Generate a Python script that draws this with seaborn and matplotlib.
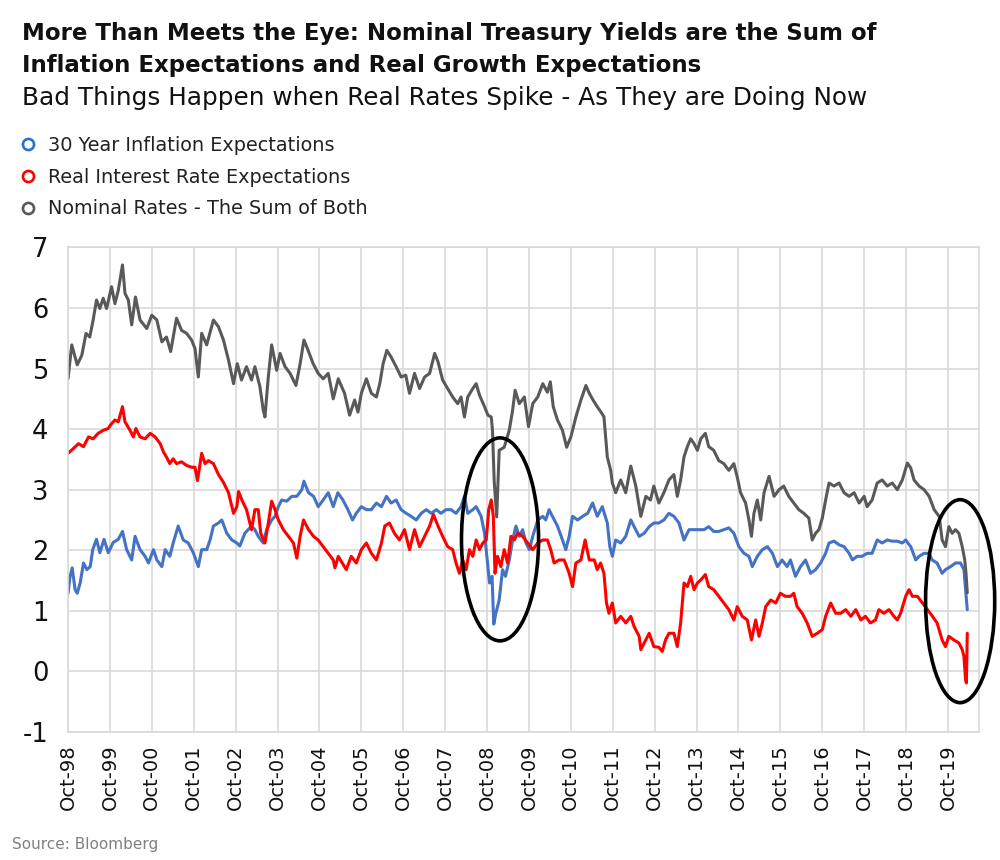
import pandas as pd
import matplotlib.pyplot as plt
import seaborn as sns
from matplotlib.patches import Ellipse
from matplotlib.lines import Line2D

# (years after Oct-1998, yield %)
inflation = [(0, 1.29), (0.05, 1.57), (0.1, 1.71), (0.17, 1.35), (0.22, 1.29), (0.29, 1.46), (0.37, 1.79),
             (0.45, 1.68), (0.53, 1.73), (0.59, 2.01), (0.68, 2.18), (0.76, 1.96), (0.86, 2.18), (0.96, 1.96),
             (1.08, 2.13), (1.2, 2.18), (1.3, 2.31), (1.4, 2.01), (1.52, 1.84), (1.6, 2.23), (1.72, 2.01),
             (1.84, 1.9), (1.92, 1.79), (2.04, 2.01), (2.12, 1.84), (2.24, 1.73), (2.32, 2.01), (2.43, 1.9),
             (2.51, 2.12), (2.63, 2.4), (2.75, 2.17), (2.87, 2.12), (2.99, 1.96), (3.11, 1.73), (3.19, 2.01),
             (3.31, 2.01), (3.39, 2.17), (3.47, 2.4), (3.59, 2.45), (3.67, 2.5), (3.79, 2.28), (3.91, 2.17),
             (4.03, 2.12), (4.1, 2.07), (4.22, 2.28), (4.3, 2.34), (4.38, 2.4), (4.46, 2.34), (4.54, 2.23),
             (4.66, 2.12), (4.74, 2.34), (4.86, 2.5), (4.94, 2.56), (5.02, 2.72), (5.1, 2.83), (5.22, 2.81),
             (5.34, 2.89), (5.46, 2.89), (5.58, 3.0), (5.63, 3.14), (5.74, 2.95), (5.86, 2.89), (5.97, 2.72),
             (6.09, 2.83), (6.21, 2.95), (6.33, 2.72), (6.44, 2.95), (6.56, 2.83), (6.68, 2.67), (6.79, 2.5),
             (6.88, 2.61), (7.0, 2.72), (7.12, 2.67), (7.24, 2.67), (7.36, 2.78), (7.48, 2.72), (7.6, 2.89),
             (7.71, 2.78), (7.83, 2.83), (7.95, 2.67), (8.07, 2.61), (8.19, 2.56), (8.31, 2.5), (8.43, 2.61),
             (8.55, 2.67), (8.67, 2.61), (8.79, 2.67), (8.9, 2.61), (9.02, 2.67), (9.14, 2.67), (9.26, 2.61),
             (9.38, 2.72), (9.46, 2.89), (9.54, 2.61), (9.66, 2.67), (9.74, 2.72), (9.86, 2.56), (9.94, 2.28),
             (10.02, 1.73), (10.06, 1.46), (10.12, 1.57), (10.16, 0.78), (10.21, 0.96), (10.29, 1.18),
             (10.37, 1.68), (10.44, 1.57), (10.53, 1.84), (10.61, 2.17), (10.69, 2.4), (10.77, 2.23),
             (10.85, 2.34), (10.93, 2.12), (11.01, 2.01), (11.09, 2.23), (11.21, 2.5), (11.33, 2.56),
             (11.4, 2.5), (11.48, 2.67), (11.56, 2.56), (11.68, 2.4), (11.8, 2.17), (11.88, 2.01),
             (11.96, 2.23), (12.04, 2.56), (12.16, 2.5), (12.28, 2.56), (12.4, 2.61), (12.52, 2.78),
             (12.63, 2.56), (12.75, 2.72), (12.87, 2.45), (12.93, 2.06), (12.99, 1.9), (13.07, 2.17),
             (13.19, 2.12), (13.31, 2.23), (13.43, 2.5), (13.51, 2.39), (13.63, 2.23), (13.75, 2.28),
             (13.87, 2.39), (13.98, 2.45), (14.1, 2.45), (14.22, 2.5), (14.34, 2.61), (14.46, 2.56),
             (14.58, 2.45), (14.7, 2.17), (14.82, 2.34), (14.94, 2.34), (15.06, 2.34), (15.18, 2.34),
             (15.29, 2.39), (15.41, 2.31), (15.53, 2.31), (15.65, 2.34), (15.77, 2.37), (15.89, 2.28),
             (16.01, 2.06), (16.13, 1.95), (16.25, 1.9), (16.33, 1.73), (16.45, 1.9), (16.57, 2.01),
             (16.69, 2.06), (16.81, 1.95), (16.93, 1.73), (17.04, 1.84), (17.16, 1.73), (17.24, 1.84),
             (17.36, 1.57), (17.48, 1.73), (17.6, 1.84), (17.72, 1.62), (17.84, 1.68), (17.96, 1.79),
             (18.08, 1.95), (18.16, 2.12), (18.28, 2.15), (18.4, 2.09), (18.52, 2.06), (18.64, 1.95),
             (18.72, 1.84), (18.83, 1.9), (18.95, 1.9), (19.07, 1.95), (19.19, 1.95), (19.31, 2.17),
             (19.43, 2.12), (19.55, 2.17), (19.67, 2.15), (19.79, 2.15), (19.91, 2.12), (19.99, 2.17),
             (20.11, 2.06), (20.23, 1.84), (20.31, 1.9), (20.43, 1.95), (20.55, 1.95), (20.62, 1.84),
             (20.74, 1.79), (20.86, 1.62), (20.94, 1.68), (21.06, 1.73), (21.18, 1.79), (21.3, 1.79),
             (21.38, 1.68), (21.42, 1.35), (21.46, 1.02)]

real_rate = [(0, 3.6), (0.13, 3.68), (0.25, 3.76), (0.37, 3.71), (0.49, 3.87), (0.6, 3.84), (0.72, 3.93),
             (0.84, 3.98), (0.96, 4.01), (1.04, 4.09), (1.12, 4.15), (1.2, 4.12), (1.3, 4.37), (1.36, 4.12),
             (1.48, 3.98), (1.56, 3.87), (1.62, 4.01), (1.72, 3.87), (1.84, 3.84), (1.96, 3.93), (2.08, 3.87),
             (2.2, 3.76), (2.28, 3.62), (2.35, 3.54), (2.43, 3.43), (2.51, 3.51), (2.59, 3.43), (2.71, 3.46),
             (2.83, 3.4), (2.95, 3.37), (3.03, 3.37), (3.09, 3.15), (3.19, 3.6), (3.27, 3.43), (3.35, 3.48),
             (3.47, 3.43), (3.59, 3.25), (3.71, 3.12), (3.83, 2.95), (3.95, 2.61), (4.03, 2.72), (4.07, 2.97),
             (4.15, 2.83), (4.26, 2.67), (4.38, 2.34), (4.46, 2.67), (4.54, 2.67), (4.6, 2.28), (4.7, 2.12),
             (4.78, 2.45), (4.86, 2.81), (4.94, 2.67), (5.02, 2.5), (5.14, 2.34), (5.26, 2.23), (5.38, 2.12),
             (5.46, 1.87), (5.54, 2.23), (5.62, 2.5), (5.74, 2.34), (5.86, 2.23), (5.97, 2.17), (6.09, 2.06),
             (6.21, 1.95), (6.33, 1.84), (6.37, 1.71), (6.45, 1.9), (6.64, 1.68), (6.76, 1.9), (6.88, 1.79),
             (7.0, 2.01), (7.12, 2.12), (7.24, 1.95), (7.36, 1.84), (7.48, 2.12), (7.56, 2.4), (7.67, 2.45),
             (7.79, 2.28), (7.91, 2.17), (8.03, 2.34), (8.15, 2.01), (8.27, 2.34), (8.39, 2.06), (8.51, 2.23),
             (8.63, 2.4), (8.72, 2.59), (8.83, 2.4), (8.94, 2.23), (9.06, 2.06), (9.18, 2.01), (9.26, 1.79),
             (9.34, 1.62), (9.42, 1.84), (9.5, 1.68), (9.58, 2.01), (9.66, 1.9), (9.74, 2.17), (9.82, 2.01),
             (9.9, 2.12), (9.98, 2.17), (10.04, 2.67), (10.1, 2.83), (10.15, 2.56), (10.19, 1.62),
             (10.25, 1.9), (10.33, 1.73), (10.41, 2.01), (10.49, 1.79), (10.57, 2.23), (10.65, 2.17),
             (10.73, 2.28), (10.85, 2.23), (10.97, 2.12), (11.09, 2.01), (11.21, 2.12), (11.33, 2.17),
             (11.44, 2.17), (11.52, 2.01), (11.6, 1.79), (11.72, 1.84), (11.84, 1.84), (11.96, 1.62),
             (12.04, 1.4), (12.12, 1.79), (12.24, 1.84), (12.34, 2.17), (12.44, 1.84), (12.56, 1.84),
             (12.63, 1.68), (12.71, 1.79), (12.79, 1.62), (12.85, 1.13), (12.91, 0.96), (12.99, 1.13),
             (13.07, 0.8), (13.19, 0.91), (13.31, 0.8), (13.43, 0.91), (13.51, 0.74), (13.63, 0.58),
             (13.67, 0.36), (13.75, 0.47), (13.87, 0.63), (13.98, 0.41), (14.1, 0.4), (14.18, 0.33),
             (14.26, 0.52), (14.34, 0.63), (14.46, 0.63), (14.54, 0.41), (14.62, 0.8), (14.7, 1.46),
             (14.78, 1.4), (14.86, 1.57), (14.94, 1.35), (15.02, 1.46), (15.1, 1.51), (15.21, 1.6),
             (15.29, 1.4), (15.41, 1.35), (15.53, 1.24), (15.65, 1.13), (15.77, 1.02), (15.89, 0.85),
             (15.97, 1.07), (16.09, 0.91), (16.21, 0.85), (16.31, 0.52), (16.41, 0.85), (16.49, 0.58),
             (16.57, 0.8), (16.65, 1.07), (16.77, 1.18), (16.89, 1.13), (17.0, 1.29), (17.12, 1.24),
             (17.24, 1.24), (17.32, 1.29), (17.4, 1.07), (17.52, 0.96), (17.64, 0.8), (17.76, 0.58),
             (17.88, 0.63), (18.0, 0.69), (18.08, 0.91), (18.2, 1.13), (18.32, 0.96), (18.44, 0.96),
             (18.56, 1.02), (18.68, 0.91), (18.8, 1.02), (18.92, 0.85), (19.03, 0.91), (19.15, 0.8),
             (19.27, 0.85), (19.35, 1.02), (19.47, 0.96), (19.59, 1.02), (19.71, 0.91), (19.79, 0.85),
             (19.87, 0.96), (19.99, 1.24), (20.07, 1.35), (20.15, 1.24), (20.27, 1.24), (20.39, 1.13),
             (20.51, 1.02), (20.63, 0.91), (20.74, 0.8), (20.86, 0.52), (20.94, 0.41), (21.02, 0.58),
             (21.14, 0.52), (21.26, 0.47), (21.34, 0.36), (21.38, 0.25), (21.42, -0.14), (21.44, -0.19),
             (21.46, 0.63)]

nominal = [(0, 4.83), (0.09, 5.39), (0.22, 5.06), (0.33, 5.22), (0.43, 5.58), (0.52, 5.52), (0.6, 5.8),
           (0.68, 6.13), (0.76, 5.99), (0.84, 6.16), (0.92, 5.99), (1.04, 6.35), (1.12, 6.07), (1.2, 6.29),
           (1.3, 6.71), (1.36, 6.24), (1.44, 6.13), (1.52, 5.72), (1.61, 6.18), (1.72, 5.8), (1.88, 5.66),
           (2.0, 5.88), (2.12, 5.8), (2.24, 5.44), (2.35, 5.52), (2.45, 5.28), (2.59, 5.83), (2.71, 5.63),
           (2.83, 5.58), (2.95, 5.47), (3.03, 5.33), (3.11, 4.86), (3.19, 5.58), (3.31, 5.39), (3.47, 5.8),
           (3.59, 5.69), (3.71, 5.47), (3.83, 5.14), (3.95, 4.75), (4.04, 5.08), (4.14, 4.81), (4.26, 5.03),
           (4.38, 4.81), (4.46, 5.03), (4.58, 4.7), (4.66, 4.31), (4.7, 4.2), (4.78, 4.86), (4.86, 5.39),
           (4.98, 4.97), (5.06, 5.25), (5.18, 5.03), (5.3, 4.92), (5.44, 4.72), (5.54, 5.08), (5.63, 5.47),
           (5.73, 5.3), (5.85, 5.08), (5.97, 4.92), (6.09, 4.83), (6.21, 4.92), (6.33, 4.5), (6.45, 4.83),
           (6.6, 4.59), (6.72, 4.23), (6.84, 4.48), (6.92, 4.28), (7.0, 4.59), (7.12, 4.83), (7.24, 4.59),
           (7.36, 4.53), (7.44, 4.75), (7.52, 5.08), (7.61, 5.3), (7.71, 5.19), (7.83, 5.03), (7.95, 4.86),
           (8.06, 4.89), (8.15, 4.59), (8.27, 4.92), (8.39, 4.67), (8.51, 4.86), (8.63, 4.92), (8.75, 5.25),
           (8.83, 5.11), (8.94, 4.81), (9.06, 4.67), (9.18, 4.53), (9.3, 4.42), (9.38, 4.53), (9.46, 4.2),
           (9.54, 4.53), (9.66, 4.67), (9.74, 4.75), (9.82, 4.56), (9.94, 4.37), (10.02, 4.23), (10.1, 4.2),
           (10.13, 3.98), (10.17, 3.15), (10.23, 2.55), (10.29, 3.65), (10.41, 3.7), (10.53, 3.98),
           (10.61, 4.31), (10.67, 4.64), (10.77, 4.42), (10.89, 4.53), (10.99, 4.04), (11.09, 4.42),
           (11.21, 4.53), (11.33, 4.75), (11.44, 4.61), (11.51, 4.78), (11.58, 4.37), (11.68, 4.15),
           (11.8, 3.98), (11.9, 3.7), (12.0, 3.87), (12.12, 4.2), (12.24, 4.48), (12.36, 4.72), (12.44, 4.59),
           (12.53, 4.48), (12.63, 4.37), (12.74, 4.26), (12.79, 4.2), (12.87, 3.54), (12.95, 3.32),
           (12.99, 3.11), (13.07, 2.95), (13.19, 3.16), (13.31, 2.95), (13.43, 3.39), (13.55, 3.06),
           (13.67, 2.56), (13.79, 2.89), (13.9, 2.83), (13.98, 3.06), (14.1, 2.78), (14.22, 2.95),
           (14.34, 3.16), (14.46, 3.25), (14.54, 2.89), (14.62, 3.16), (14.7, 3.54), (14.78, 3.71),
           (14.86, 3.84), (14.94, 3.76), (15.02, 3.65), (15.1, 3.84), (15.21, 3.93), (15.29, 3.71),
           (15.41, 3.65), (15.53, 3.48), (15.65, 3.43), (15.77, 3.32), (15.89, 3.43), (15.97, 3.21),
           (16.05, 2.95), (16.17, 2.78), (16.25, 2.5), (16.31, 2.23), (16.37, 2.61), (16.45, 2.83),
           (16.53, 2.5), (16.61, 2.95), (16.73, 3.22), (16.85, 2.89), (16.97, 3.0), (17.08, 3.06),
           (17.2, 2.89), (17.32, 2.78), (17.44, 2.67), (17.56, 2.61), (17.68, 2.53), (17.76, 2.17),
           (17.84, 2.28), (17.92, 2.34), (18.0, 2.53), (18.08, 2.83), (18.16, 3.11), (18.28, 3.06),
           (18.4, 3.11), (18.52, 2.95), (18.64, 2.89), (18.76, 2.95), (18.88, 2.78), (19.0, 2.89),
           (19.07, 2.72), (19.19, 2.83), (19.31, 3.11), (19.43, 3.16), (19.55, 3.06), (19.67, 3.11),
           (19.79, 3.0), (19.91, 3.16), (20.03, 3.44), (20.11, 3.36), (20.19, 3.16), (20.31, 3.06),
           (20.43, 3.0), (20.55, 2.89), (20.67, 2.67), (20.79, 2.56), (20.86, 2.17), (20.94, 2.06),
           (21.02, 2.39), (21.1, 2.28), (21.18, 2.34), (21.26, 2.28), (21.34, 2.06), (21.4, 1.84),
           (21.43, 1.62), (21.46, 1.3)]

series_names = ["30 Year Inflation Expectations", "Real Interest Rate Expectations",
                "Nominal Rates - The Sum of Both"]
tick_labels = ["Oct-98", "Oct-99", "Oct-00", "Oct-01", "Oct-02", "Oct-03", "Oct-04", "Oct-05", "Oct-06",
               "Oct-07", "Oct-08", "Oct-09", "Oct-10", "Oct-11", "Oct-12", "Oct-13", "Oct-14", "Oct-15",
               "Oct-16", "Oct-17", "Oct-18", "Oct-19"]
start_year = 1998.75  # Oct 1998

line_colors = ["#4472C4", "#FF0000", "#595959"]
marker_colors = ["#2874C5", "#FF0000", "#595959"]
grid_color = "#D9D9D9"


def to_frame(points, name):
    df = pd.DataFrame(points, columns=["t", "value"])
    df["date"] = start_year + df["t"]
    df["series"] = name
    return df


df = pd.concat([to_frame(p, n) for p, n in zip([inflation, real_rate, nominal], series_names)],
               ignore_index=True)

sns.set_theme(style="whitegrid")
plt.rcParams["font.family"] = ["DejaVu Sans"]

fig = plt.figure(figsize=(10, 8.6), dpi=100)
ax = fig.add_axes([0.068, 0.1488, 0.911, 0.5636])

sns.lineplot(data=df, x="date", y="value", hue="series", hue_order=series_names,
             palette=line_colors, sort=False, estimator=None, linewidth=2.2,
             legend=False, ax=ax)

ax.set_xlim(start_year, start_year + 21.74)
ax.set_ylim(-1, 7)
ax.set_xticks([start_year + k for k in range(len(tick_labels))])
ax.set_xticklabels(tick_labels, rotation=90, fontsize=14)
ax.set_yticks(range(-1, 8))
ax.set_yticklabels([str(v) for v in range(-1, 8)], fontsize=18.5)
ax.tick_params(axis="x", length=0, pad=9, colors="#111111")
ax.tick_params(axis="y", length=0, pad=14, colors="#111111")
ax.set_xlabel("")
ax.set_ylabel("")
ax.grid(True, color=grid_color, linewidth=1.2)
for s in ax.spines.values():
    s.set_color(grid_color)
    s.set_linewidth(1.2)

# highlight circles
ax.add_patch(Ellipse((start_year + 10.31, 2.18), width=1.84, height=3.35, fill=False,
                     edgecolor="black", linewidth=2.6, clip_on=False, zorder=5))
ax.add_patch(Ellipse((start_year + 21.29, 1.16), width=1.65, height=3.35, fill=False,
                     edgecolor="black", linewidth=2.6, clip_on=False, zorder=5))

# titles
fig.text(0.022, 1 - 40 / 860, "More Than Meets the Eye: Nominal Treasury Yields are the Sum of",
         fontsize=16.5, fontweight="bold", va="baseline", color="#111111")
fig.text(0.022, 1 - 72 / 860, "Inflation Expectations and Real Growth Expectations",
         fontsize=16.5, fontweight="bold", va="baseline", color="#111111")
fig.text(0.022, 1 - 105 / 860, "Bad Things Happen when Real Rates Spike - As They are Doing Now",
         fontsize=17.85, va="baseline", color="#111111")

handles = [Line2D([], [], linestyle="none", marker="o", markersize=8, markerfacecolor="white",
                  markeredgecolor=c, markeredgewidth=1.9) for c in marker_colors]
fig.legend(handles, series_names, loc="upper left", bbox_to_anchor=(0.018, 1 - 136 / 860),
           frameon=False, fontsize=13.9, handlelength=1.0, handletextpad=0.55,
           labelspacing=0.66, borderpad=0, borderaxespad=0, labelcolor="#222222")

fig.text(0.012, 1 - 849 / 860, "Source: Bloomberg", fontsize=11, color="#808080", va="baseline")

fig.savefig("out.png", dpi=100)
